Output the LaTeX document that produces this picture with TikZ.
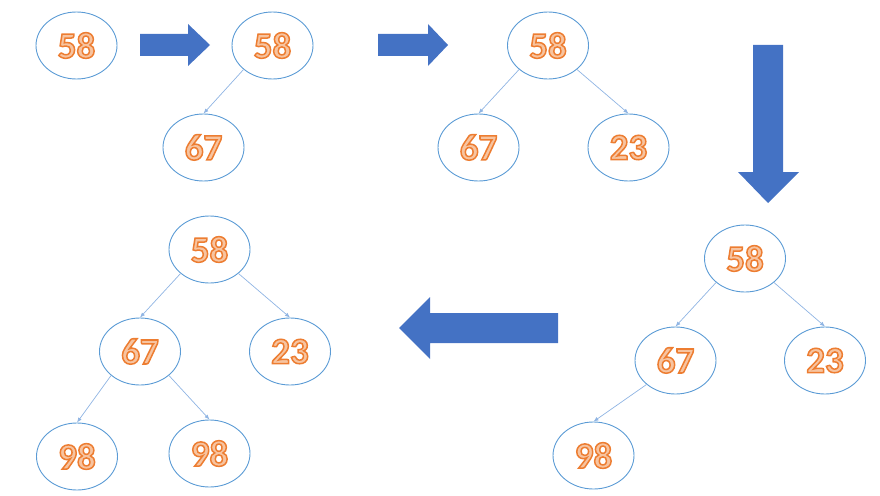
\documentclass[tikz,border=0pt]{standalone}
\usepackage{fontspec}
\setmainfont{Carlito}
\usetikzlibrary{shapes,shapes.geometric,arrows,calc,positioning}
\usetikzlibrary{arrows.meta}
\definecolor{nodeline}{HTML}{5B9BD5}
\definecolor{edgeline}{HTML}{8FB4E3}
\definecolor{numstroke}{HTML}{ED7D31}
\definecolor{numfill}{HTML}{F7C4A0}
\definecolor{arrowblue}{HTML}{4472C4}
\newcommand{\heapnum}[1]{{\color{numfill}\special{pdf:code q 2 Tr 1.5 w 0.929 0.490 0.192 RG}#1\special{pdf:code Q}}}
\tikzset{%
	>={Latex[width=4pt,length=5pt]},
	% Specifications for style of nodes:
	heapnode/.style = {ellipse, draw=nodeline, line width=0.9pt,
		minimum width=81pt, minimum height=67pt, inner sep=0pt,
		font=\fontsize{37}{40}\selectfont\bfseries},
	heapedge/.style = {->, draw=edgeline, line width=0.7pt},
	blockarrow/.style = {fill=arrowblue},
}

\begin{document}
\begin{tikzpicture}[x=1pt, y=-1pt, node distance=102pt]
\useasboundingbox (0,0) rectangle (880,495);
%% Specification of nodes (position, etc.)
\node (a58)  [heapnode] at (76.5,45.5)  {\heapnum{58}};

\node (b58)  [heapnode] at (272.5,45.5) {\heapnum{58}};
\node (b67)  [heapnode, below of=b58, xshift=-69pt] {\heapnum{67}};

\node (c58)  [heapnode] at (548,45.5)   {\heapnum{58}};
\node (c67)  [heapnode, below of=c58, xshift=-69.5pt] {\heapnum{67}};
\node (c23)  [heapnode, below of=c58, xshift=80.5pt]  {\heapnum{23}};

\node (d58)  [heapnode] at (745,258.5)  {\heapnum{58}};
\node (d67)  [heapnode, below of=d58, xshift=-69.5pt] {\heapnum{67}};
\node (d23)  [heapnode, below of=d58, xshift=80pt]    {\heapnum{23}};
\node (d98)  [heapnode, below of=d67, xshift=-82pt, yshift=7pt] {\heapnum{98}};

\node (e58)  [heapnode] at (209.5,249.5) {\heapnum{58}};
\node (e67)  [heapnode, below of=e58, xshift=-69.5pt] {\heapnum{67}};
\node (e23)  [heapnode, below of=e58, xshift=80.5pt]  {\heapnum{23}};
\node (e98)  [heapnode, below of=e67, xshift=-63pt, yshift=-3pt] {\heapnum{98}};
\node (e98b) [heapnode, below of=e67, xshift=69.5pt]  {\heapnum{98}};

%% Specification of lines between nodes specified above
\draw[heapedge] (b58.south west) -- (b67.north);
\draw[heapedge] (c58.south west) -- (c67.north);
\draw[heapedge] (c58.south east) -- (c23.north);
\draw[heapedge] (d58.south west) -- (d67.north);
\draw[heapedge] (d58.south east) -- (d23.north);
\draw[heapedge] (d67.south west) -- (d98.north);
\draw[heapedge] (e58.south west) -- (e67.north);
\draw[heapedge] (e58.south east) -- (e23.north);
\draw[heapedge] (e67.south west) -- (e98.north);
\draw[heapedge] (e67.south east) -- (e98b.north);

%% block arrows between the steps
\fill[blockarrow] (140,34) -- (188,34) -- (188,24) -- (210,45) -- (188,66) -- (188,56) -- (140,56) -- cycle;
\fill[blockarrow] (378,34) -- (428,34) -- (428,24) -- (448,45) -- (428,66) -- (428,56) -- (378,56) -- cycle;
\fill[blockarrow] (753,45) -- (783,45) -- (783,172) -- (799,172) -- (768,203) -- (738,172) -- (753,172) -- cycle;
\fill[blockarrow] (558,313) -- (430,313) -- (430,297) -- (399,328) -- (430,359) -- (430,343) -- (558,343) -- cycle;
\end{tikzpicture}
\end{document}
